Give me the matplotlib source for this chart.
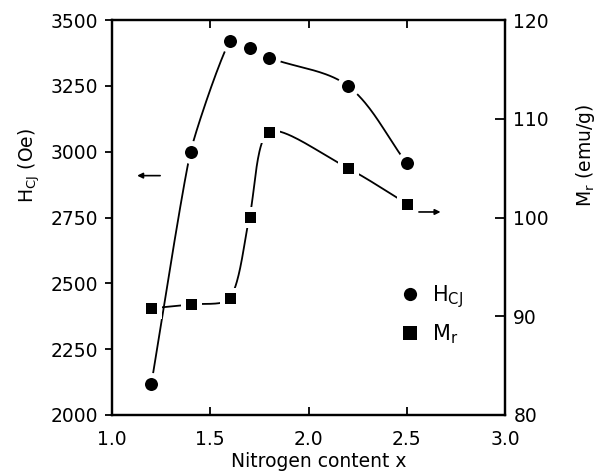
import numpy as np
import matplotlib
matplotlib.use("Agg")
import matplotlib.pyplot as plt

# ---- data ----
x_h = [1.2, 1.4, 1.6, 1.7, 1.8, 2.2, 2.5]
h_cj = [2117, 3000, 3421, 3395, 3357, 3250, 2956]
x_m = [1.2, 1.4, 1.6, 1.7, 1.8, 2.2, 2.5]
m_r = [90.8, 91.2, 91.8, 100.1, 108.7, 105.0, 101.4]
x_ticks = [1.0, 1.5, 2.0, 2.5, 3.0]
h_ticks = [2000, 2250, 2500, 2750, 3000, 3250, 3500]
m_ticks = [80, 90, 100, 110, 120]

XLIM = (1.0, 3.0)
HLIM = (2000, 3500)
MLIM = (80, 120)

# curve tension (tangent scale) at each point of the drawn spline
h_tension = [0.5, 0.5, 0.6, 1.0, 1.0, 1.0, 1.0]
m_tension = [0.8, 0.8, 0.8, 0.8, 0.8, 1.0, 1.0]


def smooth(x, y, xlim, ylim, k, n=40):
    """Parametric (chord-length) cardinal curve through the points, built in
    axes space so that it looks like the old plotting program's spline."""
    x = np.asarray(x, float)
    y = np.asarray(y, float)
    px = (x - xlim[0]) / (xlim[1] - xlim[0]) * 393.0
    py = (y - ylim[0]) / (ylim[1] - ylim[0]) * 395.0
    P = np.column_stack([px, py])
    d = np.sqrt(((P[1:] - P[:-1]) ** 2).sum(axis=1))
    t = np.concatenate([[0], np.cumsum(d)])
    T = np.empty_like(P)
    T[0] = (P[1] - P[0]) / (t[1] - t[0])
    T[-1] = (P[-1] - P[-2]) / (t[-1] - t[-2])
    T[1:-1] = (P[2:] - P[:-2]) / (t[2:] - t[:-2])[:, None]
    T = T * np.asarray(k, float)[:, None]
    out = []
    for i in range(len(P) - 1):
        h = t[i + 1] - t[i]
        s = np.linspace(0, 1, n)[:, None]
        h00 = 2 * s**3 - 3 * s**2 + 1
        h10 = s**3 - 2 * s**2 + s
        h01 = -2 * s**3 + 3 * s**2
        h11 = s**3 - s**2
        out.append(h00 * P[i] + h10 * h * T[i] + h01 * P[i + 1] + h11 * h * T[i + 1])
    Q = np.vstack(out)
    qx = Q[:, 0] / 393.0 * (xlim[1] - xlim[0]) + xlim[0]
    qy = Q[:, 1] / 395.0 * (ylim[1] - ylim[0]) + ylim[0]
    return qx, qy


plt.rcParams['font.family'] = ['DejaVu Sans']
plt.rcParams['font.size'] = 13.5

fig = plt.figure(figsize=(6.04, 4.76), dpi=100)
ax = fig.add_axes([112 / 604, 1 - 415 / 476, (505 - 112) / 604, (415 - 20) / 476])
ax2 = ax.twinx()

# H curve + markers
sx, sy = smooth(x_h, h_cj, XLIM, HLIM, h_tension)
ax.plot(sx, sy, color='black', lw=1.3, zorder=2)
hc, = ax.plot(x_h, h_cj, 'o', color='black', ms=13, mec='white', mew=3.6,
              mfc='black', zorder=3, label=r'$\mathregular{H_{CJ}}$')

# M curve + markers
sx2, sy2 = smooth(x_m, m_r, XLIM, MLIM, m_tension)
ax2.plot(sx2, sy2, color='black', lw=1.3, zorder=2)
mr, = ax2.plot(x_m, m_r, 's', color='black', ms=12, mec='white', mew=3.6,
               mfc='black', zorder=3, label=r'$\mathregular{M_r}$')

ax.set_xlim(*XLIM)
ax.set_ylim(*HLIM)
ax2.set_ylim(*MLIM)
ax.set_xticks(x_ticks)
ax.set_xticklabels([f"{v:.1f}" for v in x_ticks])
ax.set_yticks(h_ticks)
ax2.set_yticks(m_ticks)

for a in (ax, ax2):
    for s in a.spines.values():
        s.set_linewidth(1.6)

ax.tick_params(axis='y', direction='out', length=5, width=1.3, pad=5)
ax.tick_params(axis='x', direction='in', top=True, bottom=True, length=6, width=1.3, pad=11)
ax2.tick_params(axis='y', direction='in', length=7, width=1.3, pad=6)

ax.set_xlabel('Nitrogen content x')
ax.xaxis.set_label_coords((319 - 112) / 393, -0.094)
ax.set_ylabel(r'$\mathregular{H_{CJ}}$ (Oe)')
ax.yaxis.set_label_coords((42 - 112) / 393, 0.633)
ax2.set_ylabel(r'$\mathregular{M_r}$ (emu/g)')
ax2.yaxis.set_label_coords((574 - 112) / 393, 0.658)

# arrows
ax.annotate('', xy=(1.128, 2909), xytext=(1.245, 2909),
            arrowprops=dict(arrowstyle='-|>', color='black', lw=1.2,
                            mutation_scale=8, shrinkA=0, shrinkB=0))
ax2.annotate('', xy=(2.672, 100.56), xytext=(2.562, 100.56),
             arrowprops=dict(arrowstyle='-|>', color='black', lw=1.2,
                             mutation_scale=8, shrinkA=0, shrinkB=0))

leg = ax2.legend(handles=[hc, mr], loc='upper left', frameon=False,
                 bbox_to_anchor=(0.705, 0.355), handletextpad=0.45,
                 labelspacing=0.6, handlelength=1.2, borderaxespad=0,
                 fontsize=15)
for hnd in leg.legend_handles:
    hnd.set_markeredgewidth(0)
    hnd.set_markersize(9.5)

fig.savefig('out.png', dpi=100)
